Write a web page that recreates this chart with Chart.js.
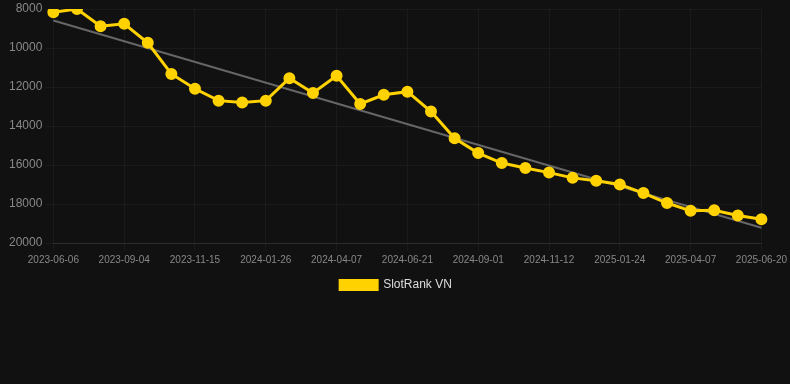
<!DOCTYPE html>
<html>
<head>
<meta charset="utf-8">
<script src="https://cdn.jsdelivr.net/npm/chart.js@4"></script>
<style>
  html, body { margin: 0; padding: 0; background: #111111; }
  #wrap { width: 790px; height: 301px; position: relative; }
</style>
</head>
<body>
<div id="wrap"><canvas id="rankChart"></canvas></div>
<script>
const dates = [
  "2023-06-06", "2023-07-06", "2023-08-05", "2023-09-04", "2023-09-28", "2023-10-22",
  "2023-11-15", "2023-12-09", "2024-01-02", "2024-01-26", "2024-02-19", "2024-03-14",
  "2024-04-07", "2024-05-02", "2024-05-27", "2024-06-21", "2024-07-15", "2024-08-08",
  "2024-09-01", "2024-09-25", "2024-10-19", "2024-11-12", "2024-12-06", "2024-12-30",
  "2025-01-24", "2025-02-17", "2025-03-14", "2025-04-07", "2025-05-02", "2025-05-26",
  "2025-06-20"
];
const rankVN = [
  8170, 8000, 8880, 8760, 9730, 11330, 12090, 12700, 12800, 12700, 11550, 12310,
  11420, 12870, 12400, 12240, 13260, 14630, 15390, 15900, 16150, 16390, 16660, 16810,
  17000, 17440, 17950, 18350, 18320, 18590, 18780
];
// trend line ends (first and last point only)
const trendStart = 8590;
const trendEnd = 19220;
const yTicks = [8000, 10000, 12000, 14000, 16000, 18000, 20000];

const trendData = dates.map((d, i) => i === 0 ? trendStart : (i === dates.length - 1 ? trendEnd : null));

const ctx = document.getElementById("rankChart").getContext("2d");
const rankChart = new Chart(ctx, {
  type: "line",
  data: {
    labels: dates,
    datasets: [
      {
        label: "SlotRank VN",
        data: rankVN,
        borderColor: "#FFD200",
        backgroundColor: "#FFD200",
        borderWidth: 3,
        pointRadius: 4.5,
        pointHoverRadius: 6,
        pointBackgroundColor: "#FFD200",
        pointBorderColor: "#FFD200",
        tension: 0,
      },
      {
        label: "trend",
        data: trendData,
        spanGaps: true,
        borderColor: "#666666",
        borderWidth: 2,
        pointRadius: 0,
        fill: false,
      },
    ],
  },
  options: {
    responsive: true,
    maintainAspectRatio: false,
    animation: false,
    layout: { padding: { left: 6, right: 4 } },
    plugins: {
      legend: {
        display: true,
        position: "bottom",
        labels: {
          color: "#dddddd",
          font: { family: "Arial, 'Liberation Sans'", size: 12 },
          boxWidth: 37,
          boxHeight: 9,
          filter: (item) => item.text !== "trend",
        },
      },
      tooltip: { enabled: false },
    },
    scales: {
      x: {
        grid: { color: "rgba(255,255,255,0.04)" },
        border: { color: "rgba(255,255,255,0.08)" },
        ticks: {
          color: "#888888",
          font: { family: "Arial, 'Liberation Sans'", size: 10 },
          maxRotation: 0,
          autoSkip: true,
          maxTicksLimit: 11,
        },
      },
      y: {
        reverse: true,
        min: 8000,
        max: 20000,
        grid: { color: "rgba(255,255,255,0.04)" },
        border: { display: false },
        afterBuildTicks: (axis) => { axis.ticks = yTicks.map(v => ({ value: v })); },
        ticks: {
          color: "#888888",
          font: { family: "Arial, 'Liberation Sans'", size: 12, lineHeight: 0.8 },
          callback: (v) => String(v),
        },
      },
    },
  },
});
</script>
</body>
</html>
